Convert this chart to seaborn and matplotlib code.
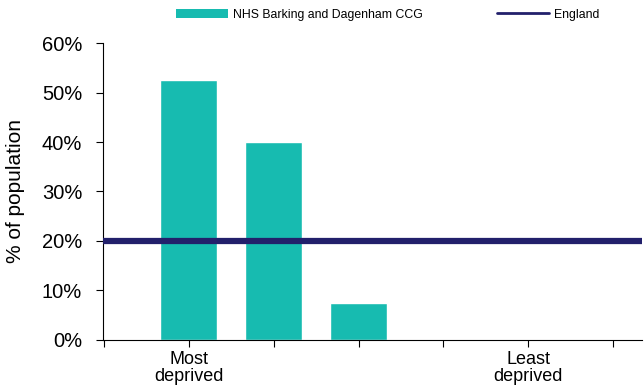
import numpy as np
import pandas as pd
import seaborn as sns
import matplotlib.pyplot as plt
from matplotlib.patches import Patch
from matplotlib.lines import Line2D
from matplotlib.ticker import PercentFormatter

# Data
quintiles = ["Q1", "Q2", "Q3", "Q4", "Q5"]
ccg_share = [52.5, 40.0, 7.5, 0.0, 0.0]
england_share = 20.0
tick_labels = ["", "Most\ndeprived", "", "", "", "Least\ndeprived", ""]

ccg_name = "NHS Barking and Dagenham CCG"
teal = "#17BBB0"
navy = "#22206B"

sns.set_style("white")
plt.rcParams['font.family'] = ['Liberation Sans', 'DejaVu Sans']
plt.rcParams['text.color'] = 'black'
plt.rcParams['axes.labelcolor'] = 'black'
plt.rcParams['xtick.color'] = 'black'
plt.rcParams['ytick.color'] = 'black'

df = pd.DataFrame({"quintile": quintiles, "share": ccg_share})

fig = plt.figure(figsize=(6.44, 3.88), dpi=100)
ax = fig.add_axes([0.16, 0.124, 0.837, 0.765])

sns.barplot(data=df, x="quintile", y="share", color=teal, saturation=1,
            width=0.67, ax=ax)
ax.axhline(england_share, color=navy, linewidth=4.5, zorder=5)

ax.set_xlim(-1.01, 5.34)
ax.set_xticks(np.arange(-1, 6))
ax.set_xticklabels(tick_labels, fontsize=13, linespacing=1.0)
ax.set_ylim(0, 60)
ax.set_yticks(np.arange(0, 61, 10))
ax.yaxis.set_major_formatter(PercentFormatter(decimals=0))
ax.tick_params(axis='y', labelsize=14.5, length=5, width=0.8,
               direction='out', left=True, pad=10)
ax.tick_params(axis='x', length=5, width=0.8,
               direction='out', bottom=True, pad=3)
ax.set_xlabel("")
ax.set_ylabel("% of population", fontsize=15, labelpad=12)

for side in ["top", "right"]:
    ax.spines[side].set_visible(False)
for side in ["left", "bottom"]:
    ax.spines[side].set_color("black")
    ax.spines[side].set_linewidth(0.8)

handles = [Patch(facecolor=teal, edgecolor='none'),
           Line2D([0], [0], color=navy, linewidth=2)]
fig.legend(handles, [ccg_name, "England"], loc="center",
           bbox_to_anchor=(0.602, 0.962), ncol=2, frameon=False, fontsize=8.8,
           handlelength=4.25, handleheight=0.7, columnspacing=6.1,
           handletextpad=0.4)

fig.savefig("out.png", dpi=100)
